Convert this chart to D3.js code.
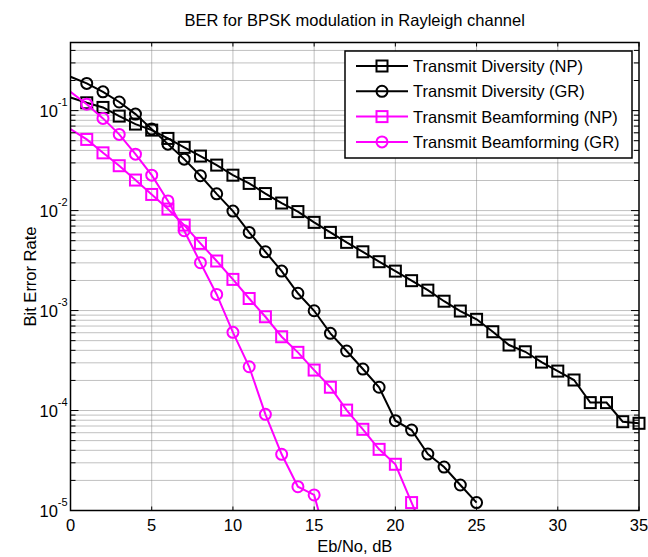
<!DOCTYPE html>
<html>
<head>
<meta charset="utf-8">
<script src="https://cdn.jsdelivr.net/npm/d3@7"></script>
<style>
  body { margin: 0; background: #fff; }
  svg { font-family: "Liberation Sans", Arial, Helvetica, sans-serif; }
</style>
</head>
<body>
<svg id="chart" width="648" height="557"></svg>
<script>
// Eb/No samples (dB)
const ebno = [0, 1, 2, 3, 4, 5, 6, 7, 8, 9, 10, 11, 12, 13, 14, 15, 16, 17,
  18, 19, 20, 21, 22, 23, 24, 25, 26, 27, 28, 29, 30, 31, 32, 33, 34, 35];

// BER, one value per Eb/No sample
const tdNP = [0.135, 0.1197, 0.1076, 0.0881, 0.0733, 0.0638, 0.0527, 0.0429, 0.0351,
  0.0285, 0.0226, 0.0187, 0.0148, 0.0119, 0.00977, 0.00762, 0.00605, 0.00481,
  0.00387, 0.00308, 0.00248, 0.00199, 0.0016, 0.00124, 0.000989, 0.000817,
  0.000614, 0.000452, 0.000387, 0.000305, 0.000248, 0.000202, 0.00012, 0.00012,
  0.0000773, 0.0000745];
const tdGR = [0.218, 0.187, 0.154, 0.122, 0.0923, 0.0653, 0.0462, 0.0327, 0.0223,
  0.0147, 0.00989, 0.00605, 0.00387, 0.00248, 0.00149, 0.000995, 0.000592,
  0.000394, 0.00026, 0.000171, 0.0000791, 0.0000638, 0.0000367, 0.0000272,
  0.000018, 0.000012];
const tbNP = [0.0653, 0.0515, 0.0378, 0.0281, 0.0202, 0.0145, 0.01035, 0.00716,
  0.0047, 0.00313, 0.00205, 0.00132, 0.000867, 0.000547, 0.000382, 0.000254,
  0.000171, 0.000101, 0.0000649, 0.0000409, 0.000029, 0.000012, 0.000005];
const tbGR = [0.154, 0.116, 0.0836, 0.0578, 0.0367, 0.0226, 0.0125, 0.00628,
  0.00301, 0.00145, 0.000605, 0.000274, 0.0000916, 0.0000365, 0.0000173,
  0.0000143, 0.0000037];

const seriesNames = ['Transmit Diversity (NP)', 'Transmit Diversity (GR)',
  'Transmit Beamforming (NP)', 'Transmit Beamforming (GR)'];
const seriesValues = [tdNP, tdGR, tbNP, tbGR];
const seriesColors = ['#000000', '#000000', '#ff00ff', '#ff00ff'];
const seriesMarkers = ['square', 'circle', 'square', 'circle'];

const xTicks = [0, 5, 10, 15, 20, 25, 30, 35];
const yMajor = [1e-5, 1e-4, 1e-3, 1e-2, 1e-1];
const yExponents = ['-5', '-4', '-3', '-2', '-1'];
const yDomain = [1e-5, 0.48];

const svg = d3.select('#chart');
const pLeft = 70.5, pRight = 639, pTop = 42.5, pBottom = 510.5;

const x = d3.scaleLinear().domain([0, 35]).range([pLeft, pRight]);
const y = d3.scaleLog().domain(yDomain).range([pBottom, pTop]);

// minor decade values 2..9 x 10^k inside the y range
const yMinor = [];
yMajor.forEach(m => {
  [2, 3, 4, 5, 6, 7, 8, 9].forEach(k => {
    const v = m * k;
    if (v <= yDomain[1]) yMinor.push(v);
  });
});

// grid
const grid = svg.append('g')
  .attr('stroke', '#808080')
  .attr('stroke-width', 1)
  .attr('stroke-dasharray', '1,1');
grid.selectAll('line.gx')
  .data(xTicks.slice(1, -1))
  .enter().append('line')
  .attr('x1', d => x(d)).attr('x2', d => x(d))
  .attr('y1', pTop).attr('y2', pBottom);
grid.selectAll('line.gy')
  .data(yMajor.slice(1).concat(yMinor))
  .enter().append('line')
  .attr('x1', pLeft).attr('x2', pRight)
  .attr('y1', d => y(d)).attr('y2', d => y(d));

svg.append('clipPath').attr('id', 'plotclip')
  .append('rect')
  .attr('x', pLeft).attr('y', pTop)
  .attr('width', pRight - pLeft).attr('height', pBottom - pTop);

const line = d3.line()
  .x(d => x(d.x))
  .y(d => y(d.y));

const squareSize = 11;
const circleR = 5.5;

seriesValues.forEach((vals, i) => {
  const pts = vals.map((v, j) => ({ x: ebno[j], y: v }));
  svg.append('path')
    .datum(pts)
    .attr('clip-path', 'url(#plotclip)')
    .attr('fill', 'none')
    .attr('stroke', seriesColors[i])
    .attr('stroke-width', 2)
    .attr('d', line);

  // no marker at the axis edge sample, nor below the bottom of the axes
  const shown = pts.filter(d => d.x > 0 && d.y >= yDomain[0]);
  const g = svg.append('g')
    .attr('fill', 'none')
    .attr('stroke', seriesColors[i])
    .attr('stroke-width', 2);
  if (seriesMarkers[i] === 'square') {
    g.selectAll('rect').data(shown).enter().append('rect')
      .attr('x', d => x(d.x) - squareSize / 2)
      .attr('y', d => y(d.y) - squareSize / 2)
      .attr('width', squareSize).attr('height', squareSize);
  } else {
    g.selectAll('circle').data(shown).enter().append('circle')
      .attr('cx', d => x(d.x))
      .attr('cy', d => y(d.y))
      .attr('r', circleR);
  }
});

// axes box
svg.append('rect')
  .attr('x', pLeft).attr('y', pTop)
  .attr('width', pRight - pLeft).attr('height', pBottom - pTop)
  .attr('fill', 'none')
  .attr('stroke', '#000')
  .attr('stroke-width', 1.5);

// ticks (inside, on all four sides)
const tickG = svg.append('g').attr('stroke', '#000').attr('stroke-width', 1);
tickG.selectAll('line.xb').data(xTicks).enter().append('line')
  .attr('x1', d => x(d)).attr('x2', d => x(d))
  .attr('y1', pBottom).attr('y2', pBottom - 4);
tickG.selectAll('line.xt').data(xTicks).enter().append('line')
  .attr('x1', d => x(d)).attr('x2', d => x(d))
  .attr('y1', pTop).attr('y2', pTop + 4);
tickG.selectAll('line.yl').data(yMajor).enter().append('line')
  .attr('x1', pLeft).attr('x2', pLeft + 8)
  .attr('y1', d => y(d)).attr('y2', d => y(d));
tickG.selectAll('line.yr').data(yMajor).enter().append('line')
  .attr('x1', pRight).attr('x2', pRight - 8)
  .attr('y1', d => y(d)).attr('y2', d => y(d));
tickG.selectAll('line.yml').data(yMinor).enter().append('line')
  .attr('x1', pLeft).attr('x2', pLeft + 5)
  .attr('y1', d => y(d)).attr('y2', d => y(d));
tickG.selectAll('line.ymr').data(yMinor).enter().append('line')
  .attr('x1', pRight).attr('x2', pRight - 5)
  .attr('y1', d => y(d)).attr('y2', d => y(d));

// x tick labels
svg.append('g').selectAll('text')
  .data(xTicks).enter().append('text')
  .attr('x', d => x(d))
  .attr('y', pBottom + 20)
  .attr('text-anchor', 'middle')
  .attr('font-size', 16.5)
  .text(d => d);

// y tick labels 10^k
const yl = svg.append('g').selectAll('text')
  .data(yMajor).enter().append('text')
  .attr('x', pLeft - 31)
  .attr('y', d => y(d) + 6)
  .attr('font-size', 16.5);
yl.append('tspan').text('10');
yl.append('tspan')
  .attr('font-size', 11)
  .attr('dy', -11)
  .text((d, i) => yExponents[i]);

// title and labels
svg.append('text')
  .attr('x', (pLeft + pRight) / 2).attr('y', 26)
  .attr('text-anchor', 'middle')
  .attr('font-size', 16.5)
  .text('BER for BPSK modulation in Rayleigh channel');
svg.append('text')
  .attr('x', (pLeft + pRight) / 2).attr('y', 552)
  .attr('text-anchor', 'middle')
  .attr('font-size', 16.5)
  .text('Eb/No, dB');
svg.append('text')
  .attr('transform', `translate(36,${(pTop + pBottom) / 2}) rotate(-90)`)
  .attr('text-anchor', 'middle')
  .attr('font-size', 16.5)
  .text('Bit Error Rate');

// legend
const lg = svg.append('g').attr('transform', 'translate(345,51)');
lg.append('rect')
  .attr('width', 287).attr('height', 107)
  .attr('fill', '#fff')
  .attr('stroke', '#000')
  .attr('stroke-width', 1.5);
const rowH = 25.3;
seriesNames.forEach((name, i) => {
  const ry = 15 + i * rowH;
  const row = lg.append('g').attr('transform', `translate(0,${ry})`);
  row.append('line')
    .attr('x1', 11).attr('x2', 63)
    .attr('stroke', seriesColors[i]).attr('stroke-width', 2);
  if (seriesMarkers[i] === 'square') {
    row.append('rect')
      .attr('x', 37 - squareSize / 2).attr('y', -squareSize / 2)
      .attr('width', squareSize).attr('height', squareSize)
      .attr('fill', 'none').attr('stroke', seriesColors[i]).attr('stroke-width', 2);
  } else {
    row.append('circle')
      .attr('cx', 37).attr('r', circleR)
      .attr('fill', 'none').attr('stroke', seriesColors[i]).attr('stroke-width', 2);
  }
  row.append('text')
    .attr('x', 68).attr('y', 6)
    .attr('font-size', 16.5)
    .text(name);
});
</script>
</body>
</html>
